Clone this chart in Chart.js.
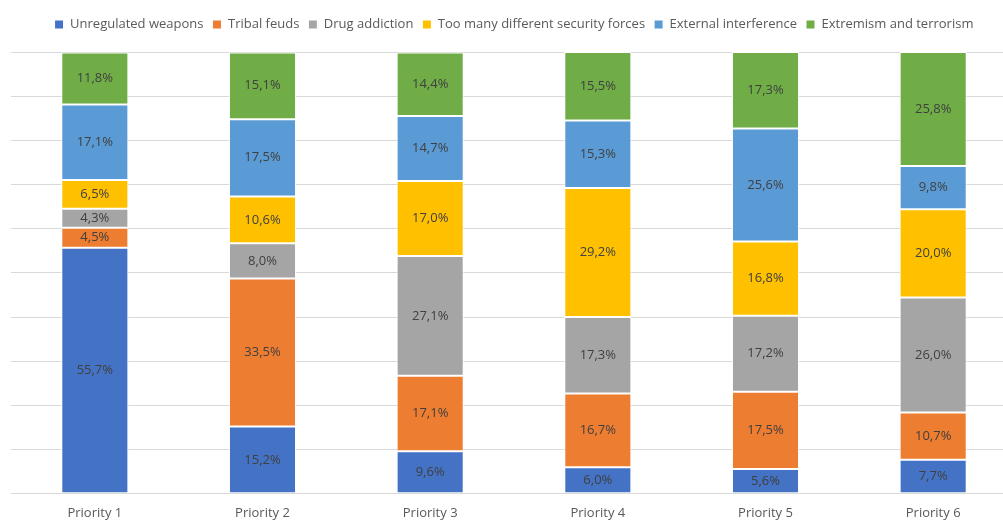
<!DOCTYPE html>
<html>
<head>
<meta charset="utf-8">
<script src="https://cdn.jsdelivr.net/npm/chart.js@4"></script>
<style>
  html, body { margin: 0; padding: 0; background: #fff; overflow: hidden; }
  #wrap { width: 1017px; height: 521px; }
</style>
</head>
<body>
<div id="wrap"><canvas id="myChart"></canvas></div>
<script>
const priorities = ['Priority 1', 'Priority 2', 'Priority 3', 'Priority 4', 'Priority 5', 'Priority 6'];

const unregulatedWeapons = [55.7, 15.2, 9.6, 6.0, 5.6, 7.7];
const tribalFeuds = [4.5, 33.5, 17.1, 16.7, 17.5, 10.7];
const drugAddiction = [4.3, 8.0, 27.1, 17.3, 17.2, 26.0];
const tooManyForces = [6.5, 10.6, 17.0, 29.2, 16.8, 20.0];
const externalInterference = [17.1, 17.5, 14.7, 15.3, 25.6, 9.8];
const extremism = [11.8, 15.1, 14.4, 15.5, 17.3, 25.8];

const yTicks = [0, 10, 20, 30, 40, 50, 60, 70, 80, 90, 100];

const textColor = '#595959';
const fontFamily = "'Open Sans', 'Noto Sans', sans-serif";

function makeSet(label, data, color) {
    return {
        label: label,
        data: data,
        backgroundColor: color,
        borderColor: '#ffffff',
        borderWidth: 1,
        borderSkipped: false,
        barPercentage: 0.8,
        categoryPercentage: 0.5
    };
}

// writes the share of each segment in its middle, comma as decimal mark
const segmentLabels = {
    id: 'segmentLabels',
    afterDatasetsDraw(chart) {
        const ctx = chart.ctx;
        ctx.save();
        ctx.font = '13px ' + fontFamily;
        ctx.fillStyle = '#404040';
        ctx.textAlign = 'center';
        ctx.textBaseline = 'middle';
        chart.data.datasets.forEach((ds, i) => {
            const meta = chart.getDatasetMeta(i);
            meta.data.forEach((bar, j) => {
                const mid = (bar.y + bar.base) / 2;
                ctx.fillText(ds.data[j].toFixed(1).replace('.', ',') + '%', bar.x, mid);
            });
        });
        ctx.restore();
    }
};

// extra room between the legend and the plot
const legendGap = {
    id: 'legendGap',
    beforeInit(chart) {
        const fit = chart.legend.fit;
        chart.legend.fit = function () {
            fit.bind(chart.legend)();
            this.height += 11;
        };
    }
};

let ctx = document.getElementById('myChart').getContext('2d');
let myChart = new Chart(ctx, {
    type: 'bar',
    data: {
        labels: priorities,
        datasets: [
            makeSet('Unregulated weapons', unregulatedWeapons, '#4472c4'),
            makeSet('Tribal feuds', tribalFeuds, '#ed7d31'),
            makeSet('Drug addiction', drugAddiction, '#a5a5a5'),
            makeSet('Too many different security forces', tooManyForces, '#ffc000'),
            makeSet('External interference', externalInterference, '#5b9bd5'),
            makeSet('Extremism and terrorism', extremism, '#70ad47')
        ]
    },
    options: {
        responsive: true,
        maintainAspectRatio: false,
        animation: false,
        layout: { padding: { left: 11, right: 0, top: 9, bottom: -3 } },
        plugins: {
            legend: {
                position: 'top',
                labels: {
                    boxWidth: 9,
                    boxHeight: 9,
                    padding: 9,
                    color: textColor,
                    font: { family: fontFamily, size: 13 }
                }
            },
            tooltip: { enabled: false }
        },
        scales: {
            x: {
                stacked: true,
                grid: { display: false },
                border: { color: '#d9d9d9', width: 1 },
                ticks: { color: textColor, font: { family: fontFamily, size: 13, lineHeight: 1.1 }, padding: 4 }
            },
            y: {
                stacked: true,
                min: 0,
                max: 100,
                afterBuildTicks(axis) {
                    axis.ticks = yTicks.map(v => ({ value: v }));
                },
                grid: { color: '#d9d9d9', drawTicks: false },
                border: { display: false },
                ticks: { display: false }
            }
        }
    },
    plugins: [segmentLabels, legendGap]
});
</script>
</body>
</html>
